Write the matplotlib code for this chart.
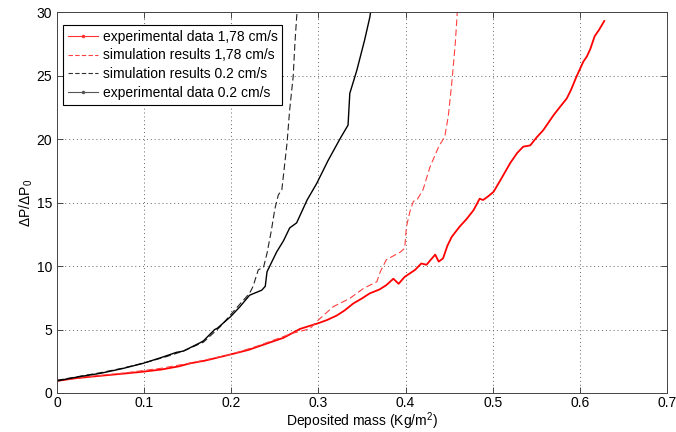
import matplotlib
matplotlib.use('Agg')
import matplotlib.pyplot as plt
from matplotlib.lines import Line2D

plt.rcParams['font.family'] = ['Liberation Sans', 'DejaVu Sans']
plt.rcParams['mathtext.fontset'] = 'custom'
plt.rcParams['mathtext.rm'] = 'Liberation Sans'

# experimental data 1,78 cm/s
exp_fast_x = [0.000, 0.020, 0.038, 0.060, 0.080, 0.099, 0.120, 0.140, 0.153, 0.170,
              0.185, 0.203, 0.220, 0.241, 0.260, 0.279, 0.300, 0.310, 0.321, 0.330,
              0.340, 0.350, 0.359, 0.370, 0.378, 0.386, 0.392, 0.399, 0.411, 0.418,
              0.424, 0.434, 0.438, 0.443, 0.448, 0.453, 0.462, 0.470, 0.478, 0.485,
              0.489, 0.495, 0.501, 0.510, 0.520, 0.528, 0.535, 0.543, 0.550, 0.558,
              0.570, 0.578, 0.585, 0.590, 0.596, 0.604, 0.608, 0.612, 0.617, 0.622,
              0.628]
exp_fast_y = [0.95, 1.15, 1.28, 1.42, 1.55, 1.68, 1.85, 2.10, 2.34, 2.55,
              2.80, 3.10, 3.40, 3.90, 4.35, 5.05, 5.50, 5.75, 6.10, 6.50,
              7.05, 7.45, 7.85, 8.15, 8.50, 9.00, 8.60, 9.15, 9.70, 10.20,
              10.10, 10.90, 10.35, 10.60, 11.60, 12.30, 13.10, 13.70, 14.40, 15.30,
              15.20, 15.50, 15.85, 16.90, 18.10, 18.90, 19.40, 19.50, 20.10, 20.70,
              21.90, 22.60, 23.20, 23.90, 24.90, 26.10, 26.50, 27.10, 28.10, 28.60,
              29.30]

# simulation results 1,78 cm/s
sim_fast_x = [0.000, 0.040, 0.080, 0.120, 0.160, 0.200, 0.230, 0.250, 0.270, 0.290,
              0.300, 0.317, 0.336, 0.352, 0.367, 0.371, 0.378, 0.394, 0.399, 0.401,
              0.405, 0.409, 0.413, 0.420, 0.428, 0.438, 0.445, 0.449, 0.453, 0.457,
              0.459, 0.460]
sim_fast_y = [1.00, 1.30, 1.60, 1.95, 2.45, 3.05, 3.70, 4.20, 4.70, 5.05,
              5.75, 6.80, 7.45, 8.25, 8.76, 9.55, 10.50, 11.10, 11.40, 13.10,
              14.30, 15.10, 15.20, 16.00, 17.80, 19.40, 20.20, 21.80, 24.40, 27.50,
              29.60, 31.00]

# simulation results 0.2 cm/s
sim_slow_x = [0.000, 0.025, 0.050, 0.075, 0.099, 0.125, 0.145, 0.168, 0.187, 0.206,
              0.221, 0.225, 0.231, 0.237, 0.241, 0.246, 0.250, 0.254, 0.258, 0.264,
              0.267, 0.271, 0.273, 0.275, 0.277]
sim_slow_y = [1.00, 1.30, 1.60, 1.95, 2.35, 2.85, 3.30, 4.00, 5.20, 6.70,
              7.85, 8.40, 9.70, 9.90, 11.00, 12.80, 14.50, 15.60, 16.00, 19.70,
              22.30, 24.90, 27.50, 29.60, 31.00]

# experimental data 0.2 cm/s
exp_slow_x = [0.000, 0.025, 0.050, 0.075, 0.099, 0.120, 0.137, 0.145, 0.164, 0.168,
              0.181, 0.184, 0.199, 0.210, 0.221, 0.235, 0.239, 0.241, 0.252, 0.260,
              0.267, 0.275, 0.287, 0.298, 0.311, 0.325, 0.334, 0.336, 0.344, 0.353,
              0.359, 0.362]
exp_slow_y = [0.95, 1.28, 1.55, 1.92, 2.34, 2.80, 3.20, 3.30, 3.95, 4.10,
              5.00, 5.10, 6.00, 6.80, 7.70, 8.10, 8.40, 9.55, 11.10, 12.00,
              13.00, 13.40, 15.20, 16.50, 18.30, 20.05, 21.10, 23.60, 25.40, 27.80,
              29.60, 31.00]

x_ticks = [0, 0.1, 0.2, 0.3, 0.4, 0.5, 0.6, 0.7]
x_tick_labels = ['0', '0.1', '0.2', '0.3', '0.4', '0.5', '0.6', '0.7']
y_ticks = [0, 5, 10, 15, 20, 25, 30]
labels = ['experimental data 1,78 cm/s', 'simulation results 1,78 cm/s',
          'simulation results 0.2 cm/s', 'experimental data 0.2 cm/s']

fig = plt.figure(figsize=(6.76, 4.32), dpi=100)
ax = fig.add_axes([0.0843, 0.0903, 0.9024, 0.8817])

ax.plot(exp_fast_x, exp_fast_y, color='#ff0000', linewidth=1.3)
ax.plot(sim_fast_x, sim_fast_y, color='#ff4040', linewidth=0.8, linestyle=(0, (6, 3)))
ax.plot(sim_slow_x, sim_slow_y, color='#222222', linewidth=0.8, linestyle=(0, (6, 3)))
ax.plot(exp_slow_x, exp_slow_y, color='#000000', linewidth=1.0)

ax.set_xlim(0, 0.7)
ax.set_ylim(0, 30)
ax.set_xticks(x_ticks)
ax.set_xticklabels(x_tick_labels)
ax.set_yticks(y_ticks)
ax.tick_params(direction='in', top=True, right=True, labelsize=10, length=4,
               width=0.7, color='#444444')
ax.tick_params(axis='x', pad=2)
ax.grid(True, linestyle=(0, (1, 3)), color='#666666', linewidth=0.7)
for s in ax.spines.values():
    s.set_linewidth(0.7)
    s.set_color('#444444')

ax.set_xlabel('Deposited mass (Kg/m$^2$)', fontsize=10)
ax.xaxis.set_label_coords(0.5, -0.047)
ax.set_ylabel(r'$\Delta$P/$\Delta$P$_0$', fontsize=10, labelpad=1)

handles = [
    Line2D([], [], color='#ff3030', linewidth=0.8, marker='.', markersize=3),
    Line2D([], [], color='#ff4040', linewidth=0.8, linestyle=(0, (4, 2))),
    Line2D([], [], color='#333333', linewidth=0.8, linestyle=(0, (4, 2))),
    Line2D([], [], color='#555555', linewidth=0.8, marker='.', markersize=3),
]
leg = ax.legend(handles, labels, loc='upper left', bbox_to_anchor=(0.0098, 0.966),
                borderaxespad=0, fontsize=10, frameon=True, fancybox=False,
                edgecolor='black', borderpad=0.35, labelspacing=0.33,
                handlelength=2.2, handletextpad=0.3, framealpha=1)
leg.get_frame().set_linewidth(0.8)

fig.savefig('out.png', dpi=100)
